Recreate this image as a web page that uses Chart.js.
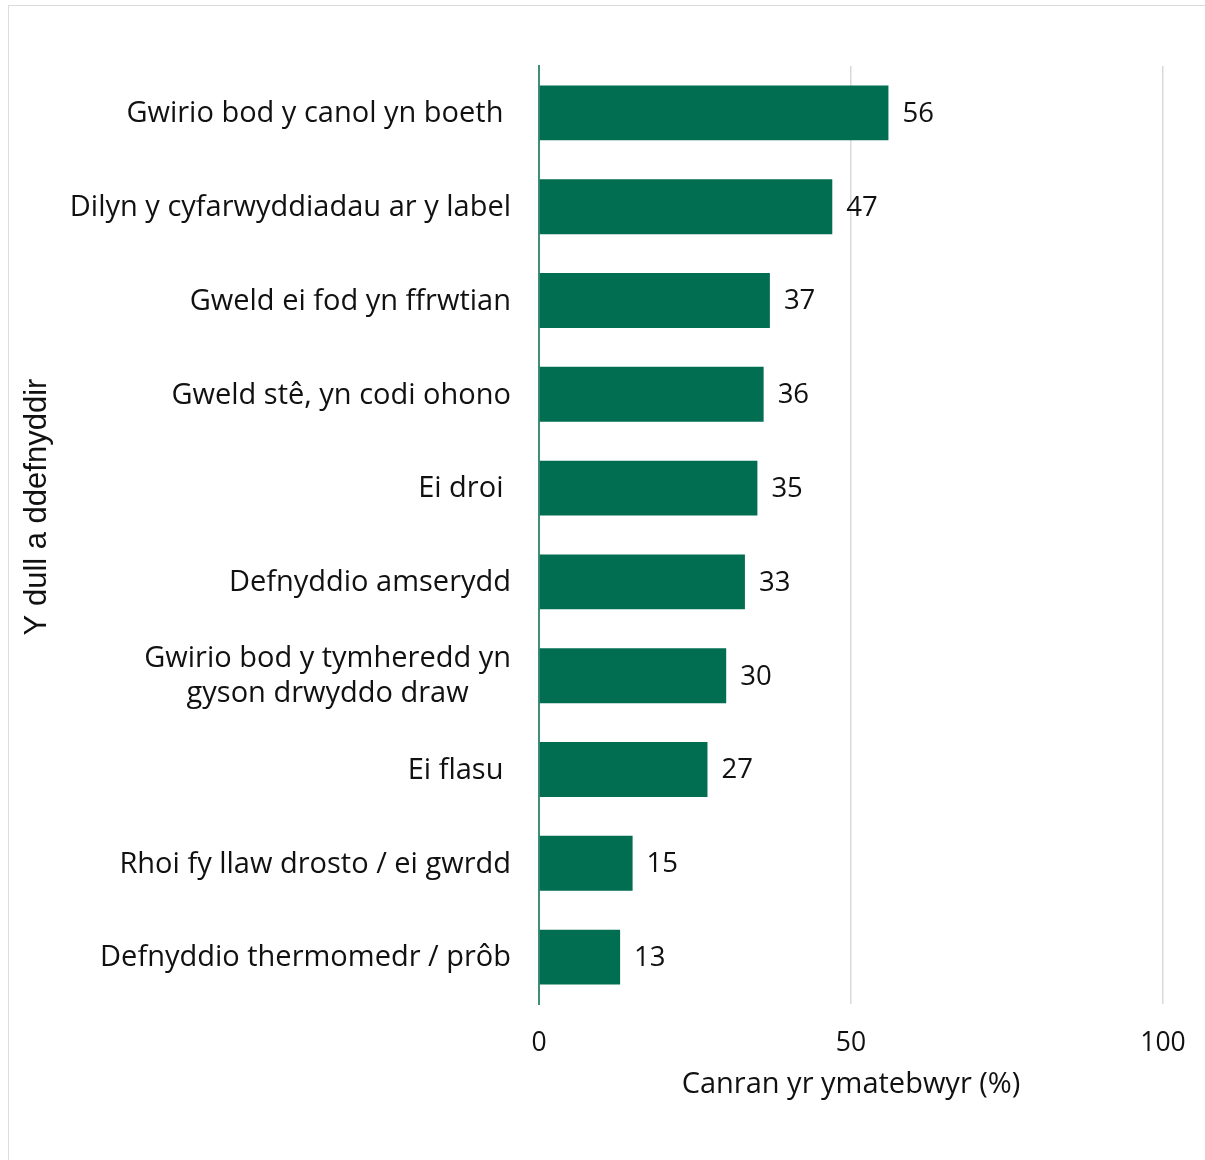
<!DOCTYPE html>
<html>
<head>
<meta charset="utf-8">
<script src="https://cdn.jsdelivr.net/npm/chart.js@4"></script>
<style>
  html, body { margin: 0; padding: 0; background: #fff; }
  #wrap { position: absolute; left: 0; top: 0; width: 1205px; height: 1160px; }
  #frame { position: absolute; left: 8px; top: 5px; width: 1220px; height: 1180px; border: 1px solid #dcdcdc; box-sizing: border-box; }
  canvas { position: absolute; left: 0; top: 0; }
</style>
</head>
<body>
<div id="wrap">
  <div id="frame"></div>
  <canvas id="c" width="1205" height="1160"></canvas>
</div>
<script>
const categories = [
  "Gwirio bod y canol yn boeth ",
  "Dilyn y cyfarwyddiadau ar y label",
  "Gweld ei fod yn ffrwtian",
  "Gweld stê, yn codi ohono",
  "Ei droi ",
  "Defnyddio amserydd",
  ["Gwirio bod y tymheredd yn", "gyson drwyddo draw"],
  "Ei flasu ",
  "Rhoi fy llaw drosto / ei gwrdd",
  "Defnyddio thermomedr / prôb"
];
const values = [56, 47, 37, 36, 35, 33, 30, 27, 15, 13];
const xTicks = [0, 50, 100];
const xTitle = "Canran yr ymatebwyr (%)";
const yTitle = "Y dull a ddefnyddir";

const FONT = "'Open Sans', 'Noto Sans', sans-serif";
const BAR = "#016e51";

const valueLabels = {
  id: 'valueLabels',
  afterDatasetsDraw(chart) {
    const ctx = chart.ctx;
    const meta = chart.getDatasetMeta(0);
    ctx.save();
    ctx.font = "27.5px " + FONT;
    ctx.fillStyle = "#111";
    ctx.textAlign = "left";
    ctx.textBaseline = "middle";
    meta.data.forEach((bar, i) => {
      ctx.fillText(String(values[i]), bar.x + 14, bar.y + 1);
    });
    ctx.restore();
  }
};

// category labels: right edge aligned, lines of a multi-line label centred on each other
const catLabels = {
  id: 'catLabels',
  afterDraw(chart) {
    const ctx = chart.ctx;
    const scale = chart.scales.y;
    const rightEdge = chart.chartArea.left - 28;
    const lineH = 35;
    ctx.save();
    ctx.font = "29px " + FONT;
    ctx.fillStyle = "#111";
    ctx.textBaseline = "middle";
    categories.forEach((lab, i) => {
      const y = scale.getPixelForTick(i);
      const lines = Array.isArray(lab) ? lab : [lab];
      const widths = lines.map(l => ctx.measureText(l).width);
      const maxW = Math.max(...widths);
      const cx = rightEdge - maxW / 2;
      ctx.textAlign = "center";
      lines.forEach((l, k) => {
        const ly = y + 1 + (k - (lines.length - 1) / 2) * lineH;
        ctx.fillText(l, cx, ly);
      });
    });
    ctx.restore();
  }
};

const yTitlePlugin = {
  id: 'yTitlePlugin',
  afterDraw(chart) {
    const ctx = chart.ctx;
    ctx.save();
    ctx.translate(37, 507);
    ctx.rotate(-Math.PI / 2);
    ctx.font = "31px 'Liberation Sans', Arial, sans-serif";
    ctx.fillStyle = "#111";
    ctx.textAlign = "center";
    ctx.textBaseline = "middle";
    ctx.fillText(yTitle, 0, 0);
    ctx.restore();
  }
};

new Chart(document.getElementById('c'), {
  type: 'bar',
  data: {
    labels: categories,
    datasets: [{
      data: values,
      backgroundColor: BAR,
      borderWidth: 0,
      barPercentage: 0.585,
      categoryPercentage: 1.0
    }]
  },
  options: {
    indexAxis: 'y',
    responsive: false,
    animation: false,
    devicePixelRatio: 1,
    layout: { padding: { left: 0, right: 42, top: 66, bottom: 0 } },
    plugins: { legend: { display: false }, tooltip: { enabled: false } },
    scales: {
      x: {
        min: 0, max: 100,
        afterBuildTicks(scale) { scale.ticks = xTicks.map(v => ({ value: v })); },
        afterFit(scale) { scale.height = 156; scale.paddingLeft = 0; scale.paddingRight = 0; },
        grid: {
          color: (c) => c.tick && c.tick.value === 0 ? 'rgba(0,0,0,0)' : '#d9d9d9',
          lineWidth: 1.5,
          drawTicks: false
        },
        border: { display: false },
        ticks: {
          padding: 24,
          color: '#111',
          font: { family: FONT, size: 26.5 },
          maxRotation: 0
        },
        title: {
          display: true,
          text: xTitle,
          color: '#111',
          font: { family: FONT, size: 29 },
          padding: { top: 0, bottom: 58 }
        }
      },
      y: {
        afterFit(scale) { scale.width = 539; },
        grid: { display: false, drawTicks: false },
        border: { display: true, color: '#3f8f77', width: 2 },
        ticks: {
          display: false,
          autoSkip: false
        }
      }
    }
  },
  plugins: [valueLabels, catLabels, yTitlePlugin]
});
</script>
</body>
</html>
